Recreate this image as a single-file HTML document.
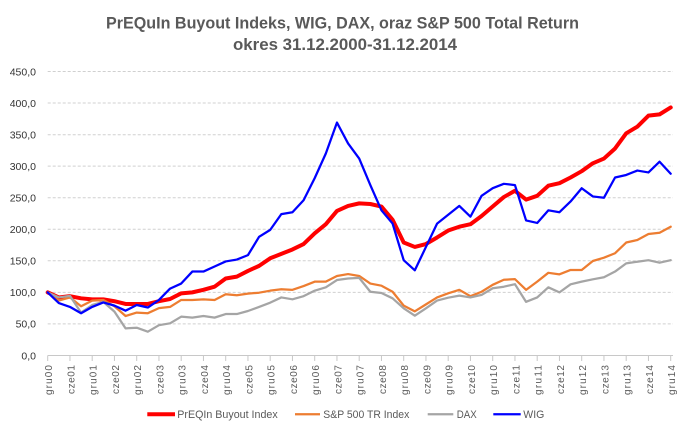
<!DOCTYPE html>
<html>
<head>
<meta charset="utf-8">
<style>
html,body{margin:0;padding:0;background:#fff;}
svg{display:block;}
text{font-family:"Liberation Sans",sans-serif;}
</style>
</head>
<body>
<svg width="688" height="434" viewBox="0 0 688 434" xmlns="http://www.w3.org/2000/svg">
<rect x="0" y="0" width="688" height="434" fill="#fff"/>
<!-- title -->
<text x="342.5" y="28.3" text-anchor="middle" font-size="17" font-weight="bold" fill="#595959" textLength="473" lengthAdjust="spacingAndGlyphs">PrEQuIn Buyout Indeks, WIG, DAX, oraz S&amp;P 500 Total Return</text>
<text x="345" y="50" text-anchor="middle" font-size="17" font-weight="bold" fill="#595959" textLength="224" lengthAdjust="spacingAndGlyphs">okres 31.12.2000-31.12.2014</text>

<!-- gridlines -->
<g stroke="#d0d0d0" stroke-width="1" stroke-dasharray="3,2">
<line x1="47.7" y1="323.9" x2="673" y2="323.9"/>
<line x1="47.7" y1="292.4" x2="673" y2="292.4"/>
<line x1="47.7" y1="260.8" x2="673" y2="260.8"/>
<line x1="47.7" y1="229.3" x2="673" y2="229.3"/>
<line x1="47.7" y1="197.7" x2="673" y2="197.7"/>
<line x1="47.7" y1="166.1" x2="673" y2="166.1"/>
<line x1="47.7" y1="134.7" x2="673" y2="134.7"/>
<line x1="47.7" y1="103.0" x2="673" y2="103.0"/>
<line x1="47.7" y1="71.5" x2="673" y2="71.5"/>
</g>

<!-- y labels -->
<g font-size="10.5" fill="#333" text-anchor="end">
<text x="36" y="359.3">0,0</text>
<text x="36" y="327.7">50,0</text>
<text x="36" y="296.2">100,0</text>
<text x="36" y="264.6">150,0</text>
<text x="36" y="233.1">200,0</text>
<text x="36" y="201.5">250,0</text>
<text x="36" y="169.9">300,0</text>
<text x="36" y="138.5">350,0</text>
<text x="36" y="106.8">400,0</text>
<text x="36" y="75.3">450,0</text>
</g>

<!-- x axis -->
<line x1="47.7" y1="355.5" x2="673" y2="355.5" stroke="#c8c8c8" stroke-width="1"/>
<g stroke="#c8c8c8" stroke-width="1">
<line x1="47.7" y1="355.5" x2="47.7" y2="361"/>
<line x1="69.95" y1="355.5" x2="69.95" y2="361"/>
<line x1="92.2" y1="355.5" x2="92.2" y2="361"/>
<line x1="114.45" y1="355.5" x2="114.45" y2="361"/>
<line x1="136.7" y1="355.5" x2="136.7" y2="361"/>
<line x1="158.95" y1="355.5" x2="158.95" y2="361"/>
<line x1="181.2" y1="355.5" x2="181.2" y2="361"/>
<line x1="203.45" y1="355.5" x2="203.45" y2="361"/>
<line x1="225.7" y1="355.5" x2="225.7" y2="361"/>
<line x1="247.95" y1="355.5" x2="247.95" y2="361"/>
<line x1="270.2" y1="355.5" x2="270.2" y2="361"/>
<line x1="292.45" y1="355.5" x2="292.45" y2="361"/>
<line x1="314.7" y1="355.5" x2="314.7" y2="361"/>
<line x1="336.95" y1="355.5" x2="336.95" y2="361"/>
<line x1="359.2" y1="355.5" x2="359.2" y2="361"/>
<line x1="381.45" y1="355.5" x2="381.45" y2="361"/>
<line x1="403.7" y1="355.5" x2="403.7" y2="361"/>
<line x1="425.95" y1="355.5" x2="425.95" y2="361"/>
<line x1="448.2" y1="355.5" x2="448.2" y2="361"/>
<line x1="470.45" y1="355.5" x2="470.45" y2="361"/>
<line x1="492.7" y1="355.5" x2="492.7" y2="361"/>
<line x1="514.95" y1="355.5" x2="514.95" y2="361"/>
<line x1="537.2" y1="355.5" x2="537.2" y2="361"/>
<line x1="559.45" y1="355.5" x2="559.45" y2="361"/>
<line x1="581.7" y1="355.5" x2="581.7" y2="361"/>
<line x1="603.95" y1="355.5" x2="603.95" y2="361"/>
<line x1="626.2" y1="355.5" x2="626.2" y2="361"/>
<line x1="648.45" y1="355.5" x2="648.45" y2="361"/>
<line x1="670.7" y1="355.5" x2="670.7" y2="361"/>
</g>

<!-- x labels -->
<g font-size="10" fill="#595959" text-anchor="end">
<text transform="translate(52.2,365) rotate(-90)" textLength="30" lengthAdjust="spacing">gru00</text>
<text transform="translate(74.45,365) rotate(-90)" textLength="29" lengthAdjust="spacing">cze01</text>
<text transform="translate(96.7,365) rotate(-90)" textLength="30" lengthAdjust="spacing">gru01</text>
<text transform="translate(118.95,365) rotate(-90)" textLength="29" lengthAdjust="spacing">cze02</text>
<text transform="translate(141.2,365) rotate(-90)" textLength="30" lengthAdjust="spacing">gru02</text>
<text transform="translate(163.45,365) rotate(-90)" textLength="29" lengthAdjust="spacing">cze03</text>
<text transform="translate(185.7,365) rotate(-90)" textLength="30" lengthAdjust="spacing">gru03</text>
<text transform="translate(207.95,365) rotate(-90)" textLength="29" lengthAdjust="spacing">cze04</text>
<text transform="translate(230.2,365) rotate(-90)" textLength="30" lengthAdjust="spacing">gru04</text>
<text transform="translate(252.45,365) rotate(-90)" textLength="29" lengthAdjust="spacing">cze05</text>
<text transform="translate(274.7,365) rotate(-90)" textLength="30" lengthAdjust="spacing">gru05</text>
<text transform="translate(296.95,365) rotate(-90)" textLength="29" lengthAdjust="spacing">cze06</text>
<text transform="translate(319.2,365) rotate(-90)" textLength="30" lengthAdjust="spacing">gru06</text>
<text transform="translate(341.45,365) rotate(-90)" textLength="29" lengthAdjust="spacing">cze07</text>
<text transform="translate(363.7,365) rotate(-90)" textLength="30" lengthAdjust="spacing">gru07</text>
<text transform="translate(385.95,365) rotate(-90)" textLength="29" lengthAdjust="spacing">cze08</text>
<text transform="translate(408.2,365) rotate(-90)" textLength="30" lengthAdjust="spacing">gru08</text>
<text transform="translate(430.45,365) rotate(-90)" textLength="29" lengthAdjust="spacing">cze09</text>
<text transform="translate(452.7,365) rotate(-90)" textLength="30" lengthAdjust="spacing">gru09</text>
<text transform="translate(474.95,365) rotate(-90)" textLength="29" lengthAdjust="spacing">cze10</text>
<text transform="translate(497.2,365) rotate(-90)" textLength="30" lengthAdjust="spacing">gru10</text>
<text transform="translate(519.45,365) rotate(-90)" textLength="29" lengthAdjust="spacing">cze11</text>
<text transform="translate(541.7,365) rotate(-90)" textLength="30" lengthAdjust="spacing">gru11</text>
<text transform="translate(563.95,365) rotate(-90)" textLength="29" lengthAdjust="spacing">cze12</text>
<text transform="translate(586.2,365) rotate(-90)" textLength="30" lengthAdjust="spacing">gru12</text>
<text transform="translate(608.45,365) rotate(-90)" textLength="29" lengthAdjust="spacing">cze13</text>
<text transform="translate(630.7,365) rotate(-90)" textLength="30" lengthAdjust="spacing">gru13</text>
<text transform="translate(652.95,365) rotate(-90)" textLength="29" lengthAdjust="spacing">cze14</text>
<text transform="translate(675.2,365) rotate(-90)" textLength="30" lengthAdjust="spacing">gru14</text>
</g>

<!-- series -->
<g transform="translate(47.7,355.5) scale(11.125,-0.6312)" fill="none" stroke-linejoin="round" stroke-linecap="round">
<polyline vector-effect="non-scaling-stroke" stroke="#ff0000" stroke-width="4" points="0,100 1,92 2,94 3,90.6 4,89 5,89 6,86 7,81.6 8,81.6 9,81.6 10,86 11,89.5 12,98.5 13,100 14,104 15,109 16,122 17,125 18,134 19,142 20,154 21,161 22,168 23,176.6 24,193.6 25,208 26,229 27,237 28,241 29,240 30,236 31,215 32,179 33,172 34,176.6 35,187 36,198 37,204 38,208 39,221 40,236 41,251 42,261 43,247 44,253 45,269 46,273 47,282 48,292 49,304.5 50,312 51,328 52,352 53,362.5 54,380 55,382 56,393"/>
<polyline vector-effect="non-scaling-stroke" stroke="#ed7d31" stroke-width="2.25" points="0,100 1,87 2,92 3,78 4,87 5,88 6,78 7,62.6 8,68 9,67 10,75 11,77 12,88 13,88 14,89 15,88 16,97 17,95.5 18,98 19,99.5 20,102.7 21,105 22,104 23,110 24,117 25,117 26,126 27,129 28,126 29,114 30,110.6 31,101 32,79 33,70 34,81 35,92 36,98.5 37,104 38,94 39,101 40,112 41,120 42,121 43,104 44,117 45,131 46,128.6 47,135.5 48,135.5 49,149.7 50,155 51,162 52,179 53,183 54,192.5 55,194.5 56,204"/>
<polyline vector-effect="non-scaling-stroke" stroke="#a5a5a5" stroke-width="2.25" points="0,100 1,92 2,94.5 3,68 4,80 5,85 6,69.5 7,43 8,44 9,37.7 10,48 11,51 12,61.5 13,60 14,62.6 15,60 16,65.7 17,65.7 18,70.5 19,77 20,83.7 21,92 22,89 23,94 24,102.7 25,108 26,119.6 27,122 28,123 29,101 30,99 31,90.6 32,74.8 33,63 34,74.8 35,87 36,91.6 37,94.8 38,92 39,96 40,106.5 41,109 42,113 43,85 44,92 45,108 46,100 47,112.8 48,117 49,120.7 50,124 51,133 52,146 53,148.6 54,151 55,147 56,151"/>
<polyline vector-effect="non-scaling-stroke" stroke="#0000ff" stroke-width="2.25" points="0,100 1,83 2,77 3,67 4,77 5,84 6,79 7,71 8,80 9,76 10,88 11,106 12,114 13,133 14,133 15,141 16,149 17,152 18,159 19,188 20,199 21,224 22,227 23,246 24,281 25,320 26,369 27,336 28,312 29,270 30,230 31,209 32,151 33,135 34,172 35,209 36,223 37,237 38,220 39,253 40,265 41,272 42,270 43,214 44,210 45,230 46,227 47,244 48,265 49,252 50,250 51,282 52,286 53,293 54,290 55,307 56,288"/>
</g>

<!-- legend -->
<line x1="147.3" y1="414.3" x2="175" y2="414.3" stroke="#ff0000" stroke-width="4"/>
<text x="177.3" y="417.8" font-size="11" fill="#595959" textLength="100.4" lengthAdjust="spacingAndGlyphs">PrEQIn Buyout Index</text>
<line x1="295" y1="414.3" x2="320" y2="414.3" stroke="#ed7d31" stroke-width="2.25"/>
<text x="323.3" y="417.8" font-size="11" fill="#595959" textLength="86" lengthAdjust="spacingAndGlyphs">S&amp;P 500 TR Index</text>
<line x1="427.7" y1="414.3" x2="453.3" y2="414.3" stroke="#a5a5a5" stroke-width="2.25"/>
<text x="456.7" y="417.8" font-size="11" fill="#595959" textLength="20" lengthAdjust="spacingAndGlyphs">DAX</text>
<line x1="493.3" y1="414.3" x2="520.7" y2="414.3" stroke="#0000ff" stroke-width="2.25"/>
<text x="523.3" y="417.8" font-size="11" fill="#595959" textLength="21" lengthAdjust="spacingAndGlyphs">WIG</text>
</svg>
</body>
</html>
